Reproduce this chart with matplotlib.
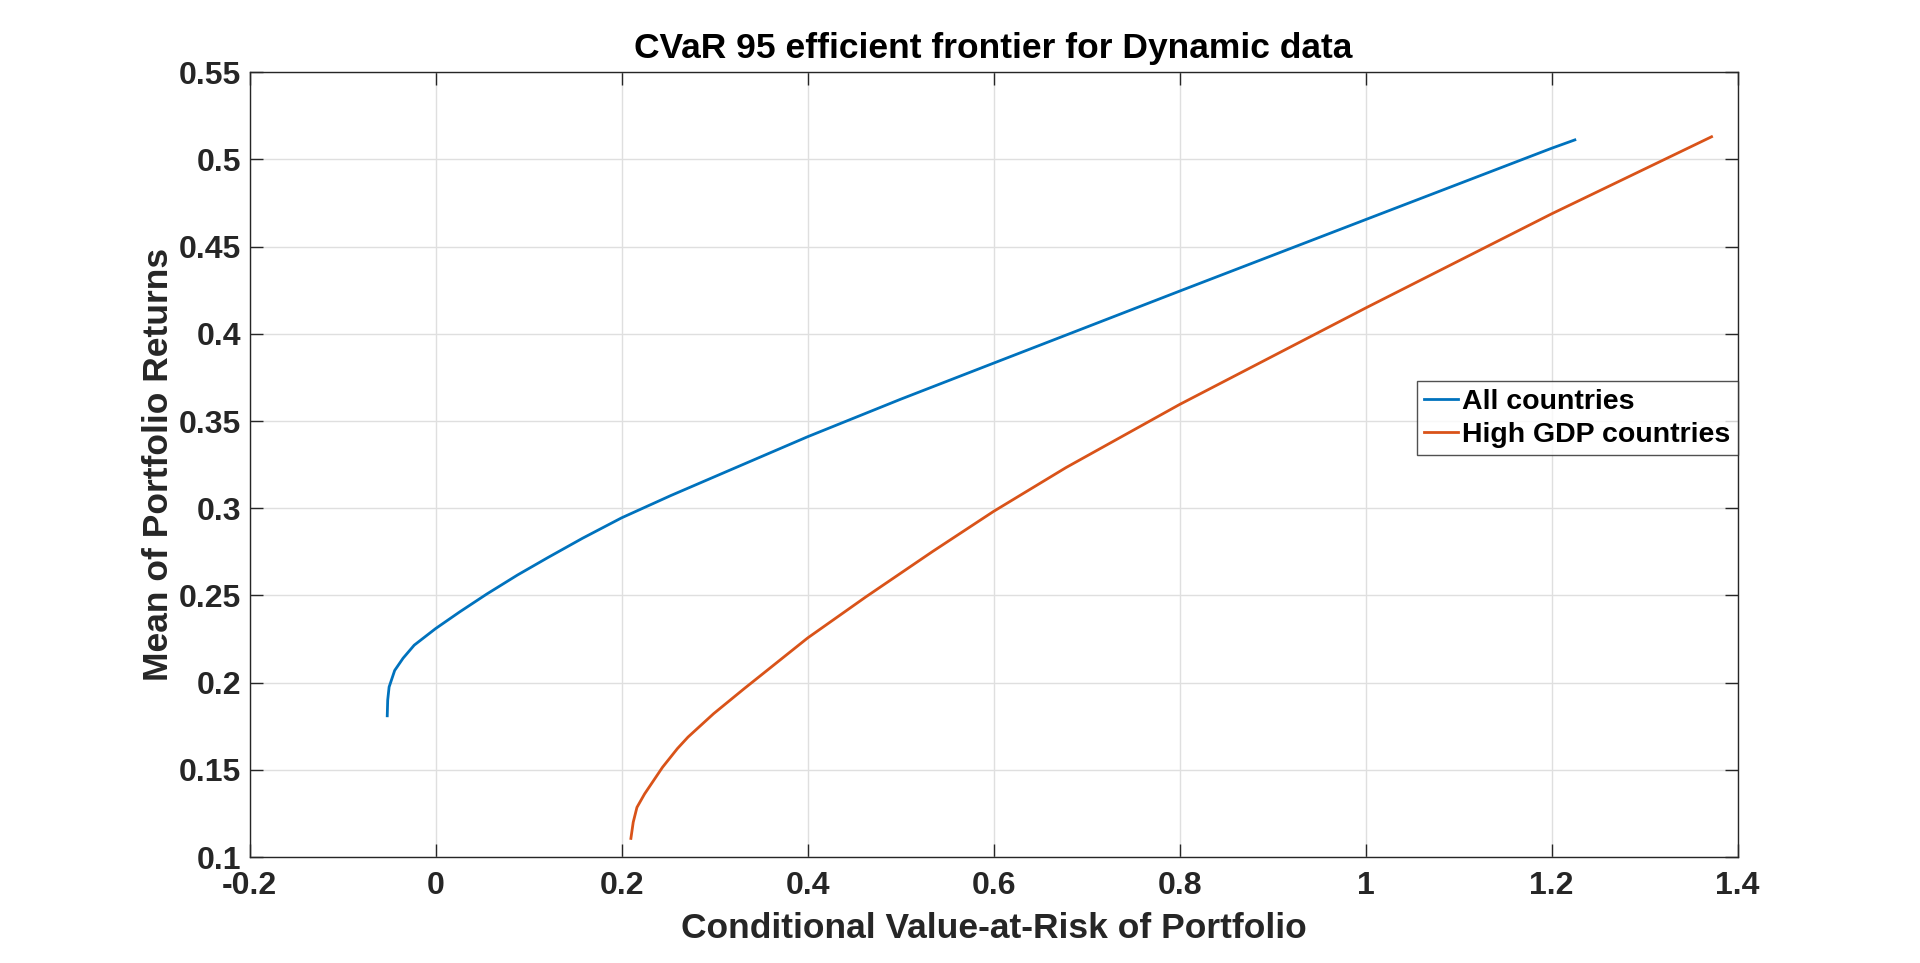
import matplotlib
matplotlib.use("Agg")
import matplotlib.pyplot as plt

# values
all_cvar = [-0.052, -0.0515, -0.050, -0.044, -0.035, -0.023, 0.0, 0.026, 0.055,
            0.088, 0.121, 0.158, 0.2, 0.253, 0.314, 0.4, 0.5, 0.6, 0.8, 1.0,
            1.2, 1.225]
all_mean = [0.181, 0.190, 0.1975, 0.207, 0.214, 0.2215, 0.231, 0.2406, 0.2508,
            0.2617, 0.2718, 0.2828, 0.2945, 0.3073, 0.3213, 0.341, 0.3625,
            0.3832, 0.4245, 0.4655, 0.5064, 0.5112]

gdp_cvar = [0.21, 0.2125, 0.2165, 0.2247, 0.244, 0.260, 0.2714, 0.2989, 0.3319,
            0.3648, 0.4, 0.4627, 0.5344, 0.6, 0.6778, 0.8, 1.0, 1.2, 1.372]
gdp_mean = [0.1107, 0.120, 0.1285, 0.1362, 0.1515, 0.1622, 0.1688, 0.1822,
            0.1966, 0.2106, 0.2256, 0.2492, 0.2752, 0.2982, 0.3233, 0.3595,
            0.4148, 0.4688, 0.513]

series_names = ["All countries", "High GDP countries"]
x_ticks = [-0.2, 0, 0.2, 0.4, 0.6, 0.8, 1, 1.2, 1.4]
y_ticks = [0.1, 0.15, 0.2, 0.25, 0.3, 0.35, 0.4, 0.45, 0.5, 0.55]

plt.rcParams['font.family'] = ['Liberation Sans', 'DejaVu Sans']
plt.rcParams['font.weight'] = 'bold'

ink = "#262626"

fig = plt.figure(figsize=(19.2, 9.63), dpi=100)
ax = fig.add_axes([0.13, 0.11, 0.775, 0.815])

ax.plot(all_cvar, all_mean, color="#0072BD", linewidth=2.0, label=series_names[0])
ax.plot(gdp_cvar, gdp_mean, color="#D95319", linewidth=2.0, label=series_names[1])

ax.set_xlim(-0.2, 1.4)
ax.set_ylim(0.1, 0.55)
ax.set_xticks(x_ticks)
ax.set_yticks(y_ticks)
ax.set_xticklabels([f"{v:g}" for v in x_ticks])
ax.set_yticklabels([f"{v:g}" for v in y_ticks])

ax.grid(True, color="#dfdfdf", linewidth=1.0)
ax.set_axisbelow(True)

ax.tick_params(direction="in", length=9.5, width=1.0, colors=ink,
               labelsize=23, top=True, right=True)
ax.tick_params(axis="x", pad=10)
ax.tick_params(axis="y", pad=6)
for lab in ax.get_xticklabels() + ax.get_yticklabels():
    lab.set_fontweight('bold')
for sp in ax.spines.values():
    sp.set_color(ink)
    sp.set_linewidth(1.0)

ax.set_xlabel("Conditional Value-at-Risk of Portfolio", fontsize=25.5,
              fontweight='bold', color=ink, labelpad=8)
ax.set_ylabel("Mean of Portfolio Returns", fontsize=25.5,
              fontweight='bold', color=ink, labelpad=3)
ax.set_title("CVaR 95 efficient frontier for Dynamic data", fontsize=25.5,
             fontweight='bold', color="black", pad=10)

leg = ax.legend(loc="upper right", bbox_to_anchor=(1.0, 0.606), fontsize=20.5,
                frameon=True, fancybox=False, handlelength=1.2,
                handletextpad=0.15, borderpad=0.25, labelspacing=0.25,
                borderaxespad=0.0)
leg.get_frame().set_edgecolor(ink)
leg.get_frame().set_linewidth(1.0)
for t in leg.get_texts():
    t.set_fontweight('bold')
for h in leg.get_lines():
    h.set_linewidth(2.0)

fig.savefig("out.png", dpi=100, facecolor="white")
